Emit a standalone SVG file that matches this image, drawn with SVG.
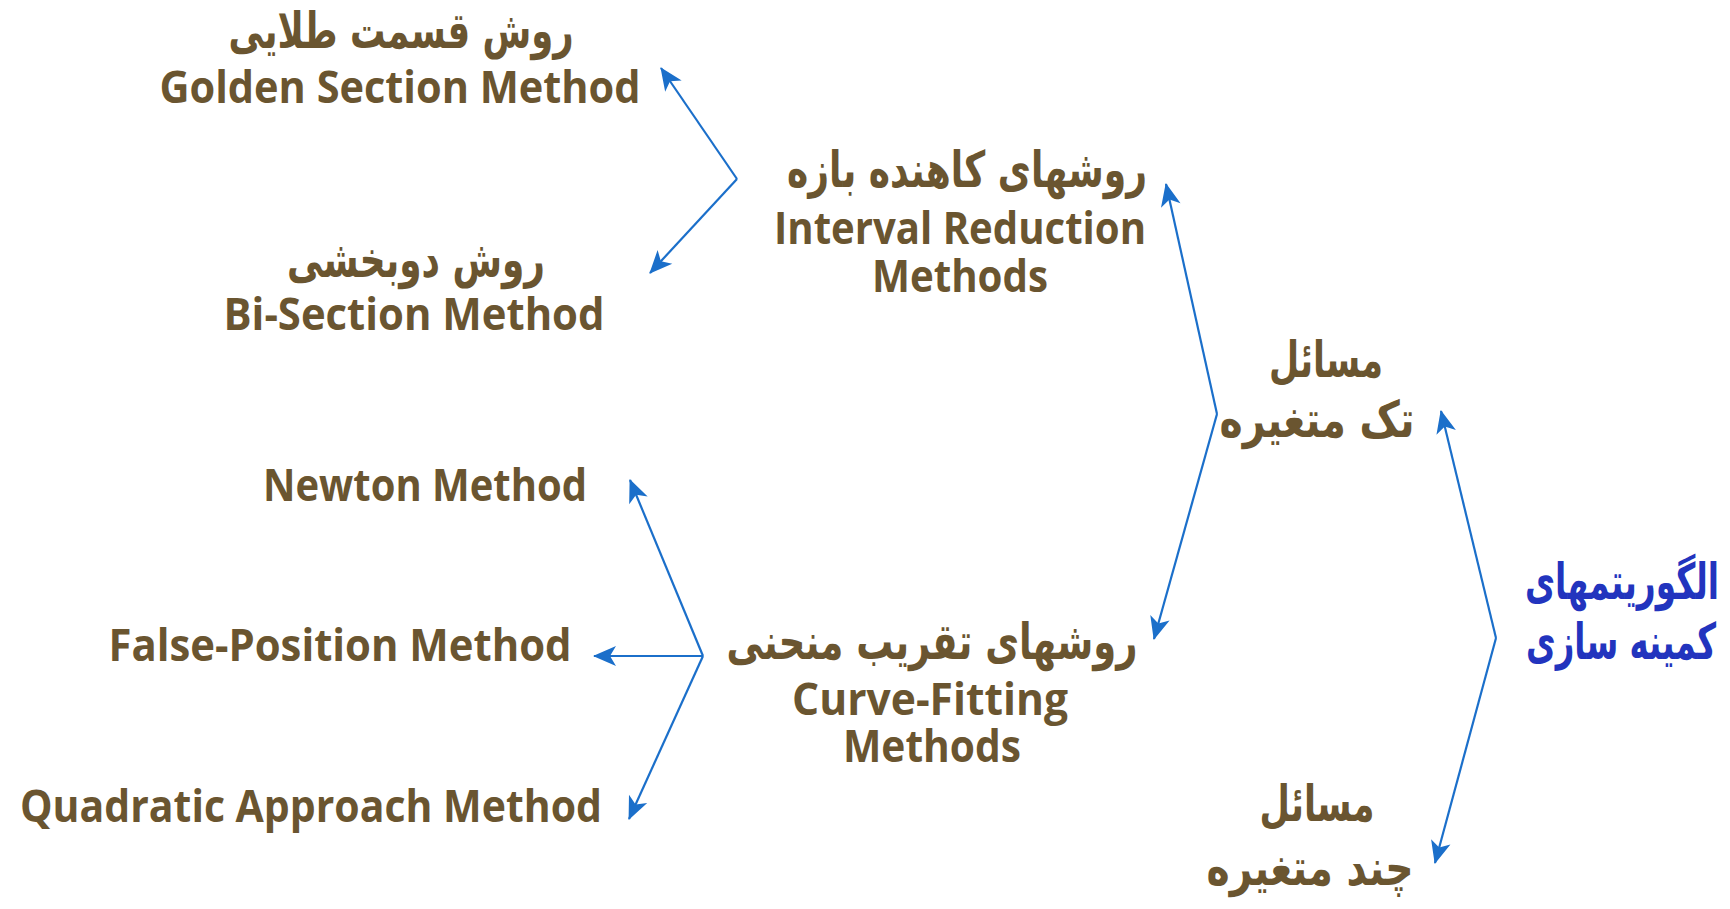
<svg xmlns="http://www.w3.org/2000/svg" width="1730" height="909" viewBox="0 0 1730 909">
<style>
.en{font-family:"Open Sans","Liberation Sans",sans-serif;font-weight:700;font-size:45px;fill:#6A5530;text-anchor:middle}
.fa{font-family:"DejaVu Sans","Noto Sans",sans-serif;font-weight:bold;font-size:50px;fill:#6A5530;text-anchor:middle}
.fb{fill:#2234BE}
.ln{fill:none;stroke:#1B6FCA;stroke-width:2.2;marker-end:url(#ah)}
</style>
<defs>
<marker id="ah" markerUnits="userSpaceOnUse" markerWidth="30" markerHeight="24" viewBox="-24 -12 26 24" refX="0" refY="0" orient="auto">
<path d="M1,0 L-22,-10 L-16,0 L-22,10 Z" fill="#1B6FCA"/>
</marker>
</defs>
<rect width="1730" height="909" fill="#FFFFFF"/>
<g id="connectors">
<path class="ln" d="M737,179 L661,68"/>
<path class="ln" d="M737,179 L650,273"/>
<path class="ln" d="M1217,414 L1166,184"/>
<path class="ln" d="M1217,414 L1154,639"/>
<path class="ln" d="M1496,638 L1441,411"/>
<path class="ln" d="M1496,638 L1435,863"/>
<path class="ln" d="M703,656 L630,480"/>
<path class="ln" d="M703,656 L594,656"/>
<path class="ln" d="M703,656 L629,819"/>
</g>
<g id="golden">
<text class="fa" x="401" y="48" textLength="345" lengthAdjust="spacingAndGlyphs">روش قسمت طلایی</text>
<text class="en" x="400" y="103" textLength="481" lengthAdjust="spacingAndGlyphs">Golden Section Method</text>
</g>
<g id="bisection">
<text class="fa" x="416" y="277" textLength="258" lengthAdjust="spacingAndGlyphs">روش دوبخشی</text>
<text class="en" x="414" y="330" textLength="381" lengthAdjust="spacingAndGlyphs">Bi-Section Method</text>
</g>
<g id="interval">
<text class="fa" x="967" y="187" textLength="360" lengthAdjust="spacingAndGlyphs">روشهای کاهنده بازه</text>
<text class="en" x="960" y="244" textLength="372" lengthAdjust="spacingAndGlyphs">Interval Reduction</text>
<text class="en" x="960" y="292" textLength="176" lengthAdjust="spacingAndGlyphs">Methods</text>
</g>
<g id="single">
<text class="fa" x="1326" y="377" textLength="114" lengthAdjust="spacingAndGlyphs">مسائل</text>
<text class="fa" x="1317" y="437" textLength="195" lengthAdjust="spacingAndGlyphs">تک متغیره</text>
</g>
<g id="root">
<text class="fa fb" x="1622" y="599" textLength="194" lengthAdjust="spacingAndGlyphs">الگوریتمهای</text>
<text class="fa fb" x="1621" y="659" textLength="190" lengthAdjust="spacingAndGlyphs">کمینه سازی</text>
</g>
<g id="multi">
<text class="fa" x="1317" y="821" textLength="115" lengthAdjust="spacingAndGlyphs">مسائل</text>
<text class="fa" x="1310" y="885" textLength="207" lengthAdjust="spacingAndGlyphs">چند متغیره</text>
</g>
<g id="curve">
<text class="fa" x="932" y="659" textLength="411" lengthAdjust="spacingAndGlyphs">روشهای تقریب منحنی</text>
<text class="en" x="930" y="715" textLength="276" lengthAdjust="spacingAndGlyphs">Curve-Fitting</text>
<text class="en" x="932" y="762" textLength="178" lengthAdjust="spacingAndGlyphs">Methods</text>
</g>
<g id="newton">
<text class="en" x="425" y="501" textLength="324" lengthAdjust="spacingAndGlyphs">Newton Method</text>
</g>
<g id="false">
<text class="en" x="340" y="661" textLength="463" lengthAdjust="spacingAndGlyphs">False-Position Method</text>
</g>
<g id="quadratic">
<text class="en" x="311" y="822" textLength="582" lengthAdjust="spacingAndGlyphs">Quadratic Approach Method</text>
</g>
</svg>
